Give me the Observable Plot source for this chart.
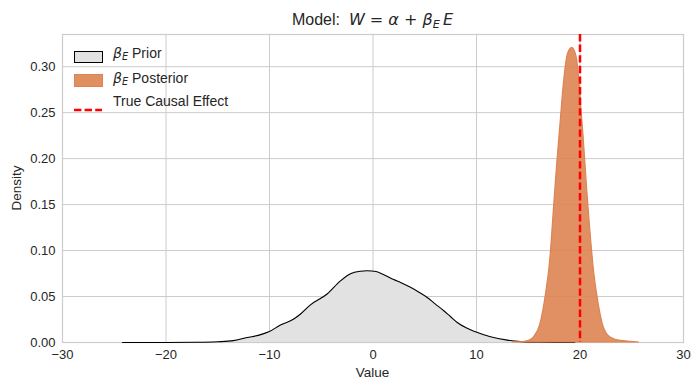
<!DOCTYPE html>
<html>
<head>
<meta charset="utf-8">
<script src="https://cdn.jsdelivr.net/npm/d3@7"></script>
<script src="https://cdn.jsdelivr.net/npm/@observablehq/plot@0.6"></script>
<style>
  html, body { margin: 0; padding: 0; background: #fff; }
  #wrap { position: relative; width: 699px; height: 390px; font-family: "Liberation Sans", Arial, sans-serif; color: #262626; }
  .abs { position: absolute; white-space: nowrap; }
  .m { font-family: "DejaVu Sans", sans-serif; font-style: italic; }
  .mu { font-family: "DejaVu Sans", sans-serif; font-style: normal; }
  .sub { font-size: 0.7em; position: relative; top: 0.25em; }
  #title { font-size: 16px; left: 0; width: 745px; text-align: center; top: 10px; }
  .leg { font-size: 14px; left: 113px; }
  svg text { fill: #262626; }
</style>
</head>
<body>
<div id="wrap">
  <div id="plot"></div>
  <div id="title" class="abs">Model:&nbsp; <span class="m">W</span><span class="mu"> = </span><span class="m">α</span><span class="mu"> + </span><span class="m">β<span class="sub">E</span>&#8201;E</span></div>
  <div class="abs" style="left:74px; top:49px;"><svg width="29" height="12"><rect x="0.5" y="0.5" width="28" height="11" fill="#e2e2e2" stroke="#000" stroke-width="1"/></svg></div>
  <div class="abs" style="left:74px; top:73px;"><svg width="29" height="13"><rect x="0.5" y="0.5" width="28" height="12" fill="#e0905f" stroke="#dd8452" stroke-width="1"/></svg></div>
  <div class="abs" style="left:74px; top:99px;"><svg width="29" height="6"><line x1="0" y1="3" x2="28" y2="3" stroke="red" stroke-width="2.5" stroke-dasharray="7.4,3.2"/></svg></div>
  <div class="abs leg" style="top:45px;"><span class="m">β<span class="sub">E</span></span> Prior</div>
  <div class="abs leg" style="top:70px;"><span class="m">β<span class="sub">E</span></span> Posterior</div>
  <div class="abs leg" style="top:93px;">True Causal Effect</div>
  <div class="abs" style="font-size:13.5px; left:0; width:745px; text-align:center; top:365px;">Value</div>
  <div class="abs" style="font-size:13.5px; left:16px; top:188px; transform: translate(-50%,-50%) rotate(-90deg);">Density</div>
</div>
<script>
// Prior density
const priorX = [-24.2,-20,-17,-15,-13.5,-12.15,-11,-10.07,-8.94,-7.65,-7.0,-6.04,-4.43,-3.14,-2.17,-1.2,-0.56,0.3,1.04,2.0,2.66,3.62,4.4,5.24,6.0,6.84,7.5,8.14,9.0,9.9,11.35,12.97,14.25,16,18,19.5];
const priorY = [0,0,0.0002,0.0008,0.002,0.0054,0.008,0.0116,0.019,0.0255,0.031,0.041,0.0527,0.067,0.0748,0.0775,0.078,0.0772,0.0738,0.0685,0.0653,0.06,0.055,0.049,0.042,0.0345,0.028,0.0218,0.016,0.0116,0.0062,0.0026,0.001,0.0003,0.0001,0];
// Posterior density
const postX = [13.5,14.5,15.0,15.54,16.18,16.67,17.15,17.47,17.8,18.12,18.44,18.76,19.0,19.25,19.5,19.73,20.05,20.37,20.7,21.0,21.35,21.8,22.3,22.95,23.9,25.0,25.7];
const postY = [0,0.0005,0.0015,0.0054,0.02,0.049,0.0925,0.143,0.194,0.238,0.281,0.31,0.318,0.3205,0.317,0.307,0.267,0.22,0.165,0.1215,0.078,0.042,0.0163,0.0054,0.0018,0.0008,0];
const trueEffect = [20];
const xTicks = [-30,-20,-10,0,10,20,30];
const yTicks = [0,0.05,0.10,0.15,0.20,0.25,0.30];

const prior = priorX.map((x, i) => ({x, y: priorY[i]}));
const post = postX.map((x, i) => ({x, y: postY[i]}));

const chart = Plot.plot({
  width: 699,
  height: 390,
  marginLeft: 62,
  marginRight: 16,
  marginTop: 34,
  marginBottom: 48,
  style: {fontFamily: "'Liberation Sans', Arial, sans-serif", fontSize: "13px", color: "#262626", background: "#fff"},
  x: {domain: [-30, 30]},
  y: {domain: [0, 0.335]},
  marks: [
    Plot.gridX(xTicks, {stroke: "#cccccc", strokeOpacity: 1, strokeWidth: 1}),
    Plot.gridY(yTicks, {stroke: "#cccccc", strokeOpacity: 1, strokeWidth: 1}),
    Plot.frame({stroke: "#cccccc", strokeWidth: 1.2}),
    Plot.areaY(prior, {x: "x", y: "y", fill: "#e2e2e2", curve: "monotone-x"}),
    Plot.lineY(prior, {x: "x", y: "y", stroke: "#000", strokeWidth: 1.1, curve: "monotone-x"}),
    Plot.areaY(post, {x: "x", y: "y", fill: "#dd8452", fillOpacity: 0.9, stroke: "#dd8452", strokeWidth: 1.2, curve: "monotone-x"}),
    Plot.ruleX(trueEffect, {stroke: "red", strokeWidth: 2.5, strokeDasharray: "7.4,3.2"}),
    Plot.axisX(xTicks, {tickSize: 0, tickPadding: 7, tickFormat: d3.format("d"), label: null, fontSize: 13}),
    Plot.axisY(yTicks, {tickSize: 0, tickPadding: 7, tickFormat: d3.format(".2f"), label: null, fontSize: 13})
  ]
});
document.getElementById("plot").appendChild(chart);
</script>
</body>
</html>
